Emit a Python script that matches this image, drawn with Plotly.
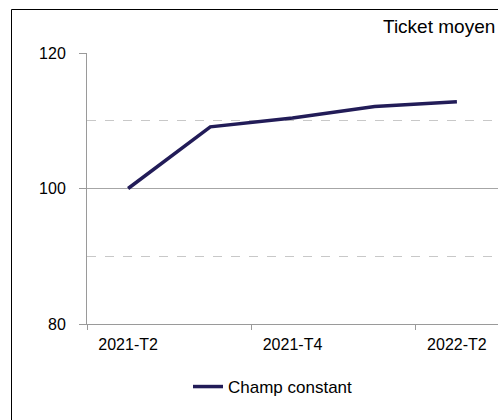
import plotly.graph_objects as go

categories = ["2021-T2", "2021-T3", "2021-T4", "2022-T1", "2022-T2"]
champ_constant = [100.0, 109.1, 110.4, 112.1, 112.8]
y_ticks = [80, 100, 120]
title_text = "Ticket moyen"
series_name = "Champ constant"

W, H = 498, 420
L, R, T, B = 87, 0, 53, 96
pw = W - L - R
ph = H - T - B

def px_x(x):
    return (x - L) / pw

def px_y(y):
    return (H - B - y) / ph

xs = list(range(len(categories)))
label_idx = xs[::2]

fig = go.Figure()
fig.add_trace(go.Scatter(
    x=xs, y=champ_constant, mode="lines", name=series_name,
    line=dict(color="#221c58", width=3.5),
    showlegend=True,
))

font_family = "Liberation Sans, Arial, sans-serif"

fig.update_layout(
    width=W, height=H,
    margin=dict(l=L, r=R, t=T, b=B),
    paper_bgcolor="white", plot_bgcolor="white",
    font=dict(family=font_family, size=16, color="#000000"),
    showlegend=True,
    legend=dict(
        x=px_x(188), xanchor="left", y=px_y(387), yanchor="middle",
        orientation="h", font=dict(size=17), bgcolor="rgba(0,0,0,0)",
    ),
    xaxis=dict(
        range=[-0.5, len(categories) - 0.5],
        tickmode="array", tickvals=label_idx,
        ticktext=[categories[i] for i in label_idx],
        ticks="", showgrid=False, zeroline=False,
        showline=True, linecolor="#9a9a9a", linewidth=1,
        tickfont=dict(size=16), ticklabelstandoff=6,
        minor=dict(tickmode="array",
                   tickvals=[i - 0.5 for i in label_idx],
                   ticks="outside", ticklen=5, tickcolor="#9a9a9a", showgrid=False),
    ),
    yaxis=dict(
        range=[y_ticks[0], y_ticks[-1]],
        tickmode="array", tickvals=y_ticks,
        ticks="outside", ticklen=7, tickcolor="#9a9a9a",
        showgrid=True, gridcolor="#a6a6a6", gridwidth=1,
        zeroline=False, showline=True, linecolor="#9a9a9a", linewidth=1,
        tickfont=dict(size=16), ticklabelstandoff=10,
        minor=dict(dtick=10, showgrid=True, gridcolor="#c8c8c8",
                   griddash="dash", ticks=""),
    ),
    annotations=[dict(
        text=title_text, xref="paper", yref="paper",
        x=px_x(381), xanchor="left", y=px_y(26.5), yanchor="middle",
        showarrow=False, font=dict(size=19),
    )],
    shapes=[dict(
        type="rect", xref="paper", yref="paper",
        x0=px_x(11.5), x1=px_x(W + 20), y0=px_y(H + 20), y1=px_y(9.5),
        line=dict(color="#000000", width=1), layer="below",
    )],
)

fig.write_html(
    "out.html",
    config={"displayModeBar": False},
    post_script="document.body.style.margin='0';document.body.style.overflow='hidden';",
)
